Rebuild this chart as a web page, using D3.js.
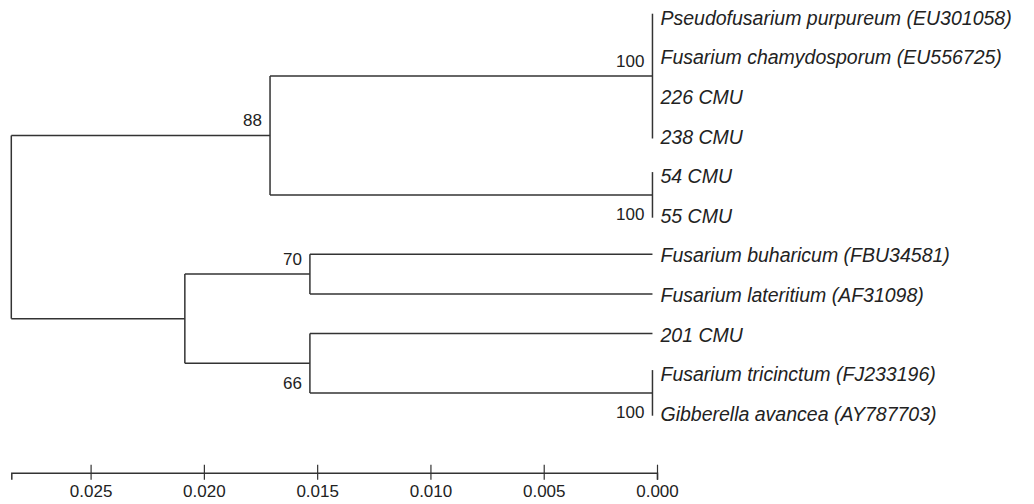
<!DOCTYPE html>
<html>
<head>
<meta charset="utf-8">
<script src="https://cdn.jsdelivr.net/npm/d3@7"></script>
<style>
  html, body { margin: 0; padding: 0; background: #fff; }
  svg { display: block; }
</style>
</head>
<body>
<svg id="chart" width="1034" height="504"></svg>
<script>
// ---- data ----
const leafNames = [
  "Pseudofusarium purpureum (EU301058)",
  "Fusarium chamydosporum (EU556725)",
  "226 CMU",
  "238 CMU",
  "54 CMU",
  "55 CMU",
  "Fusarium buharicum (FBU34581)",
  "Fusarium lateritium (AF31098)",
  "201 CMU",
  "Fusarium tricinctum (FJ233196)",
  "Gibberella avancea (AY787703)"
];
const leafParents = ["n100a","n100a","n100a","n100a","n100b","n100b","n70","n70","n66","n100c","n100c"];
const leafHeights = [0.0002,0.0002,0.0002,0.0002,0.0002,0.0002,0.0002,0.0002,0.0002,0.0002,0.0002];

const nodeIds      = ["root", "n88",  "nLow",  "n100a", "n100b", "n70",   "n66",   "n100c"];
const nodeParents  = [null,   "root", "root",  "n88",   "n88",   "nLow",  "nLow",  "n66"];
const nodeHeights  = [0.0285, 0.01708, 0.02084, 0.0002, 0.0002,  0.01532, 0.01532, 0.0002];
const nodeSupport  = [null,   88,     null,    100,     100,     70,      66,      100];
const supportSide  = [null,   "above", null,   "above", "below", "above", "below", "below"];

const axisTicks = [0.025, 0.020, 0.015, 0.010, 0.005, 0.000];

// ---- build tree ----
const rows = [];
nodeIds.forEach((id, i) => rows.push({id, parent: nodeParents[i], h: nodeHeights[i], support: nodeSupport[i], side: supportSide[i], leaf: -1}));
leafNames.forEach((name, i) => rows.push({id: "leaf" + i, name, parent: leafParents[i], h: leafHeights[i], leaf: i}));
const root = d3.stratify().id(d => d.id).parentId(d => d.parent)(rows);

const svg = d3.select("#chart");
const x = d3.scaleLinear().domain([0.0285, 0]).range([11.3, 657]);
const y = d3.scaleLinear().domain([0, leafNames.length - 1]).range([16.7, 412.7]);

root.eachAfter(n => {
  if (n.data.leaf >= 0) n.py = y(n.data.leaf);
  else n.py = d3.mean(n.children, c => c.py);
});

const lineColor = "#333";
const font = "'Liberation Sans', Arial, sans-serif";
const g = svg.append("g").attr("stroke", lineColor).attr("stroke-width", 1.5).attr("fill", "none");

root.each(n => {
  const nx = x(n.data.h);
  if (n.children) {
    const ys = n.children.map(c => c.py);
    const tipGroup = n.children.every(c => c.data.leaf >= 0 && Math.abs(x(c.data.h) - nx) < 0.5);
    g.append("line").attr("x1", nx).attr("x2", nx)
      .attr("y1", d3.min(ys) - (tipGroup ? 3 : 0))
      .attr("y2", d3.max(ys) + (tipGroup ? 3 : 0));
    n.children.forEach(c => {
      const cx = x(c.data.h);
      if (cx > nx + 0.5) {
        g.append("line").attr("x1", nx).attr("x2", cx).attr("y1", c.py).attr("y2", c.py);
      }
    });
  }
});

// leaf labels
root.leaves().forEach(n => {
  svg.append("text")
    .attr("x", x(n.data.h) + 8)
    .attr("y", n.py + 8)
    .attr("font-family", font)
    .attr("font-style", "italic")
    .attr("font-size", 19.5)
    .attr("fill", "#222")
    .text(n.data.name);
});

// support labels
root.descendants().filter(n => n.data.support != null).forEach(n => {
  svg.append("text")
    .attr("x", x(n.data.h) - 8)
    .attr("y", n.py + (n.data.side === "above" ? -15 : 20))
    .attr("dominant-baseline", "central")
    .attr("text-anchor", "end")
    .attr("font-family", font)
    .attr("font-size", 17)
    .attr("fill", "#222")
    .text(n.data.support);
});

// scale axis
const axis = d3.axisBottom(x).tickValues(axisTicks).tickFormat(d3.format(".3f")).tickSizeOuter(0).tickSize(7);
const ax = svg.append("g").attr("transform", "translate(0,472.7)").call(axis);
ax.select(".domain").attr("stroke", lineColor).attr("stroke-width", 1.5);
ax.selectAll(".tick line").attr("y1", -8).attr("y2", 7).attr("stroke", lineColor).attr("stroke-width", 1.2);
ax.selectAll(".tick text").attr("y", 12).attr("dy", "0.71em")
  .attr("font-family", font)
  .attr("font-size", 17).attr("fill", "#222");
</script>
</body>
</html>
